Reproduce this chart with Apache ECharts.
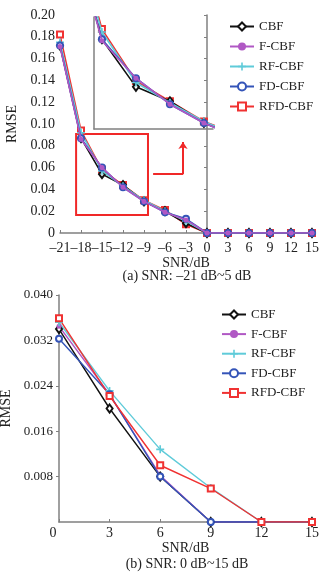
<!DOCTYPE html>
<html>
<head>
<meta charset="utf-8">
<script src="https://cdn.jsdelivr.net/npm/echarts@6/dist/echarts.min.js"></script>
<style>
html, body { margin: 0; padding: 0; background: #fff; }
#main { width: 328px; height: 579px; }
</style>
</head>
<body>
<div id="main"></div>
<script>
// 图(a) SNR: -21 dB ~ 15 dB
var snrA = [-21, -18, -15, -12, -9, -6, -3, 0, 3, 6, 9, 12, 15];
var cbfA  = [0.172, 0.087, 0.054, 0.044, 0.029, 0.020, 0.009, 0, 0, 0, 0, 0, 0];
var fA    = [0.171, 0.086, 0.060, 0.042, 0.029, 0.019, 0.012, 0, 0, 0, 0, 0, 0];
var rfA   = [0.175, 0.092, 0.057, 0.043, 0.030, 0.020, 0.011, 0, 0, 0, 0, 0, 0];
var fdA   = [0.172, 0.087, 0.060, 0.042, 0.029, 0.019, 0.013, 0, 0, 0, 0, 0, 0];
var rfdA  = [0.182, 0.094, 0.058, 0.044, 0.030, 0.021, 0.008, 0, 0, 0, 0, 0, 0];

// 图(b) SNR: 0 dB ~ 15 dB
var snrB = [0, 3, 6, 9, 12, 15];
var cbfB  = [0.0340, 0.0200, 0.0080, 0, 0, 0];
var fB    = [0.0345, 0.0225, 0.0082, 0, 0, 0];
var rfB   = [0.0352, 0.0231, 0.0128, 0.0060, 0, 0];
var fdB   = [0.0323, 0.0225, 0.0080, 0, 0, 0];
var rfdB  = [0.0359, 0.0222, 0.0100, 0.0059, 0, 0];

var names = ['CBF', 'F-CBF', 'RF-CBF', 'FD-CBF', 'RFD-CBF'];
var colors = ['#111111', '#b058c4', '#5fcbd9', '#3454b8', '#f03232'];
var symbols = ['emptyDiamond', 'circle', 'path://M4,0H6V4H10V6H6V10H4V6H0V4H4Z', 'emptyCircle', 'emptyRect'];
var symSizes = [[6, 8], 5, 8, 6, 6];
var zTop = [3, 6, 4, 5, 2];   // 图(a)里紫色/蓝色压在上面

var FONT = 'Liberation Serif';
var AXC = '#808080';

function pairs(xs, ys) {
    var out = [];
    for (var i = 0; i < xs.length; i++) out.push([xs[i], ys[i]]);
    return out;
}

var dataA = [cbfA, fA, rfA, fdA, rfdA];
var dataB = [cbfB, fB, rfB, fdB, rfdB];

var series = [];
for (var i = 0; i < names.length; i++) {
    // 主图(a)
    series.push({
        name: names[i], type: 'line', xAxisIndex: 0, yAxisIndex: 0, z: zTop[i],
        data: pairs(snrA, dataA[i]), symbol: symbols[i], symbolSize: symSizes[i],
        color: colors[i], lineStyle: { width: 1.6 }, itemStyle: { borderWidth: 1.3 },
        animation: false
    });
    // 局部放大图
    series.push({
        name: names[i], type: 'line', xAxisIndex: 2, yAxisIndex: 2, z: zTop[i],
        data: pairs(snrA, dataA[i]), symbol: symbols[i], symbolSize: symSizes[i],
        color: colors[i], lineStyle: { width: 1.6 }, itemStyle: { borderWidth: 1.3 },
        clip: true, animation: false
    });
    // 图(b)
    series.push({
        name: names[i], type: 'line', xAxisIndex: 1, yAxisIndex: 1,
        data: pairs(snrB, dataB[i]), symbol: symbols[i], symbolSize: symSizes[i],
        color: colors[i], lineStyle: { width: 1.4 }, itemStyle: { borderWidth: 1.3 },
        animation: false
    });
}

// 红色框和箭头
series.push({
    type: 'line', xAxisIndex: 0, yAxisIndex: 0, data: [], silent: true, z: 1,
    markArea: {
        silent: true,
        itemStyle: { color: 'rgba(0,0,0,0)', borderColor: '#f02828', borderWidth: 2 },
        data: [[{ coord: [-18.7, 0.0908] }, { coord: [-8.43, 0.0165] }]]
    },
    markLine: {
        silent: true, animation: false,
        label: { show: false },
        lineStyle: { color: '#f02828', width: 2, type: 'solid' },
        data: [
            [{ coord: [-7.7, 0.054], symbol: 'none' }, { coord: [-3.43, 0.054], symbol: 'none' }],
            [{ coord: [-3.43, 0.054], symbol: 'none' }, { coord: [-3.43, 0.0835], symbol: 'arrow', symbolSize: 7 }]
        ]
    }
});

var nameStyle = { fontFamily: FONT, fontSize: 14, color: '#222' };
var legendText = { fontFamily: FONT, fontSize: 13, color: '#222' };

var option = {
    backgroundColor: '#fff',
    textStyle: { fontFamily: FONT },
    title: [
        { text: '(a) SNR: –21 dB~5 dB', left: 187, top: 269, textAlign: 'center', padding: 0,
          textStyle: { fontFamily: FONT, fontSize: 14, fontWeight: 'normal', color: '#222' } },
        { text: '(b) SNR: 0 dB~15 dB', left: 187, top: 557, textAlign: 'center', padding: 0,
          textStyle: { fontFamily: FONT, fontSize: 14, fontWeight: 'normal', color: '#222' } }
    ],
    legend: [
        { data: names, orient: 'vertical', left: 229, top: 20, itemWidth: 24, itemHeight: 10,
          itemGap: 7, textStyle: legendText, padding: 0 },
        { data: names, orient: 'vertical', left: 221, top: 308, itemWidth: 24, itemHeight: 10,
          itemGap: 6.6, textStyle: legendText, padding: 0 }
    ],
    grid: [
        { left: 60, top: 15, width: 252, height: 218, outerBoundsMode: 'none' },
        { left: 59, top: 295, width: 253, height: 227, outerBoundsMode: 'none' },
        { left: 94, top: 17, width: 119, height: 112, outerBoundsMode: 'none' }
    ],
    xAxis: [
        {
            gridIndex: 0, type: 'value', min: -21, max: 15, interval: 3,
            name: 'SNR/dB', nameLocation: 'middle', nameGap: 22, nameTextStyle: nameStyle,
            axisLine: { lineStyle: { color: AXC, width: 1.5 } },
            axisTick: { show: true, inside: true, length: 3, lineStyle: { color: AXC } },
            splitLine: { show: false },
            axisLabel: { fontFamily: FONT, fontSize: 14, color: '#222', margin: 8,
                formatter: function (v) { return String(v).replace('-', '–'); } }
        },
        {
            gridIndex: 1, type: 'value', min: 0, max: 15, interval: 3,
            name: 'SNR/dB', nameLocation: 'middle', nameGap: 19, nameTextStyle: nameStyle,
            axisLine: { lineStyle: { color: AXC, width: 1.5 } },
            axisTick: { show: true, inside: true, length: 3, lineStyle: { color: AXC } },
            splitLine: { show: false },
            axisLabel: { fontFamily: FONT, fontSize: 14, color: '#222', margin: 4,
                formatter: function (v) { return v === 0 ? '{z|0}' : String(v); },
                rich: { z: { fontFamily: FONT, fontSize: 14, color: '#222', padding: [0, 12, 0, 0] } } }
        },
        {
            gridIndex: 2, type: 'value', min: -18.7, max: -8.2,
            axisLine: { lineStyle: { color: AXC, width: 1.5 } },
            axisTick: { show: false }, axisLabel: { show: false }, splitLine: { show: false }
        }
    ],
    yAxis: [
        {
            gridIndex: 0, type: 'value', min: 0, max: 0.2, interval: 0.02,
            name: 'RMSE', nameLocation: 'middle', nameGap: 35, nameTextStyle: nameStyle,
            axisLine: { show: true, lineStyle: { color: AXC, width: 1.5 } },
            axisTick: { show: true, length: 3, lineStyle: { color: AXC } },
            splitLine: { show: false },
            axisLabel: { fontFamily: FONT, fontSize: 14, color: '#222', margin: 5,
                formatter: function (v) { return v === 0 ? '0' : v.toFixed(2); } }
        },
        {
            gridIndex: 1, type: 'value', min: 0, max: 0.04, interval: 0.008,
            name: 'RMSE', nameLocation: 'middle', nameGap: 39, nameTextStyle: nameStyle,
            axisLine: { show: true, lineStyle: { color: AXC, width: 1.5 } },
            axisTick: { show: true, length: 3, lineStyle: { color: AXC } },
            splitLine: { show: false },
            axisLabel: { fontFamily: FONT, fontSize: 13, color: '#222', margin: 6, showMinLabel: false,
                formatter: function (v) { return v.toFixed(3); } }
        },
        {
            gridIndex: 2, type: 'value', min: 0.0248, max: 0.1024,
            axisLine: { show: true, lineStyle: { color: AXC, width: 1.5 } },
            axisTick: { show: false }, axisLabel: { show: false }, splitLine: { show: false }
        }
    ],
    series: series
};

var myChart = echarts.init(document.getElementById('main'), null, { renderer: 'canvas' });
myChart.setOption(option);
</script>
</body>
</html>
